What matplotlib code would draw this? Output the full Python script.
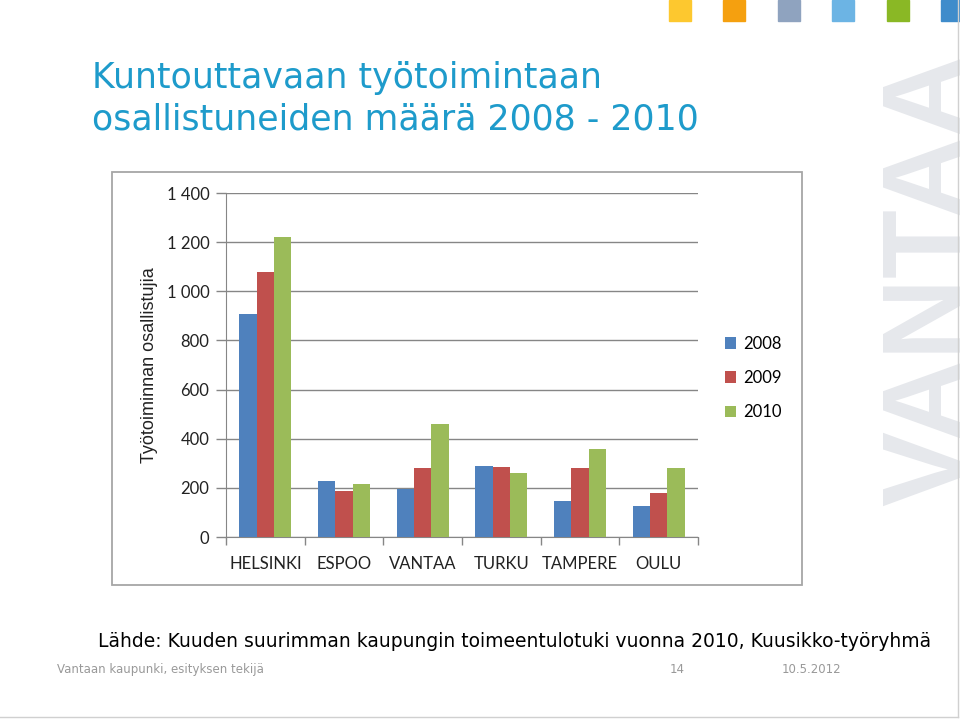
import numpy as np
import matplotlib
matplotlib.use("Agg")
import matplotlib.pyplot as plt
from matplotlib.patches import Rectangle

# data
cities = ["HELSINKI", "ESPOO", "VANTAA", "TURKU", "TAMPERE", "OULU"]
years = ["2008", "2009", "2010"]
v2008 = [906, 229, 195, 287, 145, 125]
v2009 = [1079, 189, 279, 283, 279, 178]
v2010 = [1220, 214, 459, 259, 358, 279]
yticks = [0, 200, 400, 600, 800, 1000, 1200, 1400]
ytick_labels = ["0", "200", "400", "600", "800", "1 000", "1 200", "1 400"]

bar_colors = ["#4F81BD", "#C0504D", "#9BBB59"]
deco_colors = ["#FDC82F", "#F5A00F", "#8FA3BF", "#6CB4E4", "#8AB825", "#3F8CCB"]

W, H = 960, 720
fig = plt.figure(figsize=(9.6, 7.2), dpi=100)

def fx(px):
    return px / W

def fy(py):
    return 1 - py / H

# decorative squares on top
for i, c in enumerate(deco_colors):
    fig.patches.append(Rectangle((fx(669 + i * 54.4), fy(21)), fx(22), 21 / H,
                                 transform=fig.transFigure, color=c, zorder=1))

# watermark (cut off at the right edge like in the slide)
fig.text(fx(879), fy(506), "VANTAA", rotation=90, ha="left", va="bottom",
         fontsize=81, fontweight="bold", family="Liberation Sans",
         color="#E6E8EC", zorder=0)

# edge lines
fig.add_artist(plt.Line2D([fx(958), fx(958)], [fy(0), fy(717)], transform=fig.transFigure,
                          color="#D0D0D0", lw=1))
fig.add_artist(plt.Line2D([fx(0), fx(958)], [fy(717), fy(717)], transform=fig.transFigure,
                          color="#D0D0D0", lw=1))

# title
fig.text(fx(92), fy(88), "Kuntouttavaan työtoimintaan", color="#1E9BCB",
         fontsize=25, family="DejaVu Sans", ha="left", va="baseline")
fig.text(fx(92), fy(130), "osallistuneiden määrä 2008 - 2010", color="#1E9BCB",
         fontsize=25, family="DejaVu Sans", ha="left", va="baseline")

# chart border
fig.patches.append(Rectangle((fx(112), fy(585)), fx(802 - 112), (585 - 172) / H,
                             transform=fig.transFigure, fill=False,
                             edgecolor="#A6A6A6", lw=1.3, zorder=2))

ax = fig.add_axes([fx(226), fy(537), fx(698 - 226), (537 - 193) / H])
x = np.arange(len(cities))
bw = 0.22
for i, (vals, yr) in enumerate(zip([v2008, v2009, v2010], years)):
    ax.bar(x + (i - 1) * bw, vals, width=bw, color=bar_colors[i], label=yr, zorder=3)

ax.set_xlim(-0.5, len(cities) - 0.5)
ax.set_ylim(0, 1400)
ax.set_yticks(yticks)
ax.set_yticklabels(ytick_labels, family="Lato", fontsize=12, color="#222222")
ax.set_xticks(x)
ax.set_xticklabels(cities, family="Lato", fontsize=12, color="#222222")
ax.tick_params(axis="x", length=0, pad=14)
ax.set_xticks(np.arange(len(cities) + 1) - 0.5, minor=True)
ax.tick_params(axis="x", which="minor", length=6, color="#868686", width=1)
ax.tick_params(axis="y", length=7, color="#868686", width=1, pad=5)
ax.grid(axis="y", color="#868686", lw=1, zorder=0)
for s in ["top", "right"]:
    ax.spines[s].set_visible(False)
for s in ["left", "bottom"]:
    ax.spines[s].set_color("#868686")
ax.set_ylabel("Työtoiminnan osallistujia", family="Liberation Sans", fontsize=13,
              labelpad=6, color="#222222")

leg = ax.legend(loc="center left", bbox_to_anchor=(1.025, 0.462), frameon=False,
                prop={"family": "Lato", "size": 12}, handlelength=0.7, handleheight=0.7,
                labelspacing=1.1, handletextpad=0.4)

# source and footer
fig.text(fx(98), fy(647), "Lähde: Kuuden suurimman kaupungin toimeentulotuki vuonna 2010, Kuusikko-työryhmä",
         fontsize=13.5, family="DejaVu Sans", ha="left", va="baseline", color="black")
fig.text(fx(57), fy(673), "Vantaan kaupunki, esityksen tekijä", fontsize=8.5,
         family="DejaVu Sans", color="#999999", ha="left", va="baseline")
fig.text(fx(670), fy(673), "14", fontsize=8.5, family="DejaVu Sans", color="#999999",
         ha="left", va="baseline")
fig.text(fx(782), fy(673), "10.5.2012", fontsize=8.5, family="DejaVu Sans", color="#999999",
         ha="left", va="baseline")

fig.savefig("out.png", dpi=100)
